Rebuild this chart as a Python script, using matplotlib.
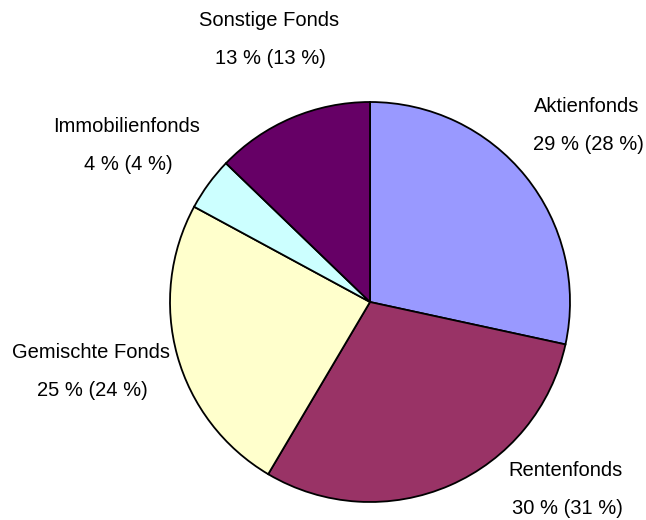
import matplotlib
matplotlib.use("Agg")
import matplotlib.pyplot as plt

# fund categories, clockwise from 12 o'clock
categories = ["Aktienfonds", "Rentenfonds", "Gemischte Fonds", "Immobilienfonds", "Sonstige Fonds"]
shares = [28.4, 30.1, 24.4, 4.3, 12.8]          # slice sizes
share_labels = ["29 % (28 %)", "30 % (31 %)", "25 % (24 %)", "4 % (4 %)", "13 % (13 %)"]
colors = ["#9999FF", "#993366", "#FFFFCC", "#CCFFFF", "#660066"]

# label anchor points (pixel coords, name line / percent line)
label_pos = [(587, 106), (566, 470), (91, 352), (127, 126), (269, 21)]
line_gap = 38

W, H = 646, 520
fig = plt.figure(figsize=(W / 100, H / 100), dpi=100)
ax = fig.add_axes([0, 0, 1, 1])
ax.set_xlim(0, W); ax.set_ylim(0, H)
ax.set_aspect("equal"); ax.axis("off")

ax.pie(shares, colors=colors, startangle=90, counterclock=False,
       center=(370, H - 302), radius=200,
       wedgeprops=dict(edgecolor="black", linewidth=1.3))
ax.set_xlim(0, W); ax.set_ylim(0, H)

for name, pct, (x, y) in zip(categories, share_labels, label_pos):
    ax.text(x, H - y, name, ha="center", va="center", fontsize=14.5,
            family="Liberation Sans", color="black")
    ax.text(x + 1, H - y - line_gap, pct, ha="center", va="center", fontsize=14.5,
            family="Liberation Sans", color="black")

fig.savefig("out.png", dpi=100)
